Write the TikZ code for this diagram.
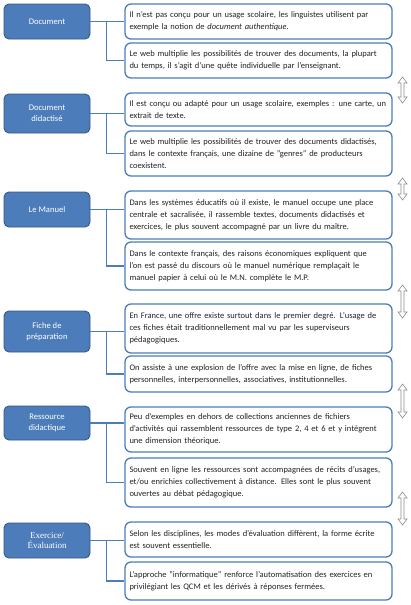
\documentclass[tikz,border=0pt]{standalone}
\usepackage{fontspec}
\setmainfont{Carlito}
\newfontfamily\serifcat{Liberation Serif}
\definecolor{bluefill}{RGB}{76,125,186}
\definecolor{blueedge}{RGB}{52,88,132}
\definecolor{boxedge}{RGB}{74,126,187}
\definecolor{arrowgray}{RGB}{140,140,140}
\definecolor{txtcol}{RGB}{35,35,35}
\newcommand\dq{\symbol{34}}
\newcommand\UDarrow[3]{\draw[updown] (#1-1.5,#2+6) -- (#1-4.5,#2+6) -- (#1,#2) -- (#1+4.5,#2+6) -- (#1+1.5,#2+6) -- (#1+1.5,#3-6) -- (#1+4.5,#3-6) -- (#1,#3) -- (#1-4.5,#3-6) -- (#1-1.5,#3-6) -- cycle;}
\begin{document}
\begin{tikzpicture}[x=1pt,y=-1pt,
 catbox/.style={draw=blueedge, fill=bluefill, rounded corners=5pt, line width=0.9pt, text=white, font=\fontsize{8.6}{11}\selectfont, align=center, minimum width=86pt, inner sep=0pt},
 txtbox/.style={draw=boxedge, fill=white, rounded corners=6pt, line width=1.3pt, font=\fontsize{8.5}{12}\selectfont, text width=258pt, align=left, inner xsep=4.5pt, inner ysep=0pt, text=txtcol},
 conn/.style={draw=boxedge, line width=1.2pt},
 updown/.style={draw=arrowgray, fill=white, line width=0.6pt}]
\useasboundingbox (0,0) rectangle (411,605);

% Group 1
\node[catbox, minimum height=35pt] (L1) at (47,21.5) {Document};
\node[txtbox, minimum height=35pt] (A1) at (258.5,21.5) {Il n'est pas conçu pour un usage scolaire, les linguistes utilisent par\\exemple la notion de \textit{document authentique}.};
\node[txtbox, minimum height=35pt] (B1) at (258.5,60.5) {Le web multiplie les possibilités de trouver des documents, la plupart\\du temps, il s'agit d'une quête individuelle par l'enseignant.};

% Group 2
\node[catbox, minimum height=39pt] (L2) at (47,113.5) {Document\\didactisé};
\node[txtbox, minimum height=33pt] (A2) at (258.5,109.5) {Il est conçu ou adapté pour un usage scolaire, exemples : une carte, un\\extrait de texte.};
\node[txtbox, minimum height=45pt] (B2) at (258.5,153.5) {Le web multiplie les possibilités de trouver des documents didactisés,\\dans le contexte français, une dizaine de \dq genres\dq{} de producteurs\\coexistent.};

% Group 3
\node[catbox, minimum height=35pt] (L3) at (47,209.5) {Le Manuel};
\node[txtbox, minimum height=48pt] (A3) at (258.5,215) {Dans les systèmes éducatifs où il existe, le manuel occupe une place\\centrale et sacralisée, il rassemble textes, documents didactisés et\\exercices, le plus souvent accompagné par un livre du maître.};
\node[txtbox, minimum height=48pt] (B3) at (258.5,266) {Dans le contexte français, des raisons économiques expliquent que\\l'on est passé du discours où le manuel numérique remplaçait le\\manuel papier à celui où le M.N. complète le M.P.};

% Group 4
\node[catbox, minimum height=41pt] (L4) at (47,331.5) {Fiche de\\préparation};
\node[txtbox, minimum height=49pt] (A4) at (258.5,328.5) {En France, une offre existe surtout dans le premier degré. L'usage de\\ces fiches était traditionnellement mal vu par les superviseurs\\pédagogiques.};
\node[txtbox, minimum height=36pt] (B4) at (258.5,374) {On assiste à une explosion de l'offre avec la mise en ligne, de fiches\\personnelles, interpersonnelles, associatives, institutionnelles.};

% Group 5
\node[catbox, minimum height=34pt] (L5) at (47,423) {Ressource\\didactique};
\node[txtbox, minimum height=45pt] (A5) at (258.5,429.5) {Peu d'exemples en dehors de collections anciennes de fichiers\\d'activités qui rassemblent ressources de type 2, 4 et 6 et y intègrent\\une dimension théorique.};
\node[txtbox, minimum height=49pt] (B5) at (258.5,482.5) {Souvent en ligne les ressources sont accompagnées de récits d'usages,\\et/ou enrichies collectivement à distance. Elles sont le plus souvent\\ouvertes au débat pédagogique.};

% Group 6
\node[catbox, minimum height=35pt, font=\serifcat\fontsize{9}{10}\selectfont] (L6) at (47,540.5) {Exercice/\\Évaluation};
\node[txtbox, minimum height=35pt] (A6) at (258.5,539.5) {Selon les disciplines, les modes d'évaluation diffèrent, la forme écrite\\est souvent essentielle.};
\node[txtbox, minimum height=38pt] (B6) at (258.5,581) {L'approche \dq informatique\dq{} renforce l'automatisation des exercices en\\privilégiant les QCM et les dérivés à réponses fermées.};

% Connectors
\foreach \g in {1,...,6}{
  \draw[conn] (L\g.east) -- (A\g.west |- L\g.east);
  \draw[conn] ([xshift=16pt]L\g.east) |- (B\g.west);
}

% Double arrows between groups
\UDarrow{402.5}{77}{103}
\UDarrow{402.5}{178}{200}
\UDarrow{402.5}{285}{318}
\UDarrow{402.5}{384}{418}
\UDarrow{402.5}{492}{525}
\end{tikzpicture}
\end{document}
